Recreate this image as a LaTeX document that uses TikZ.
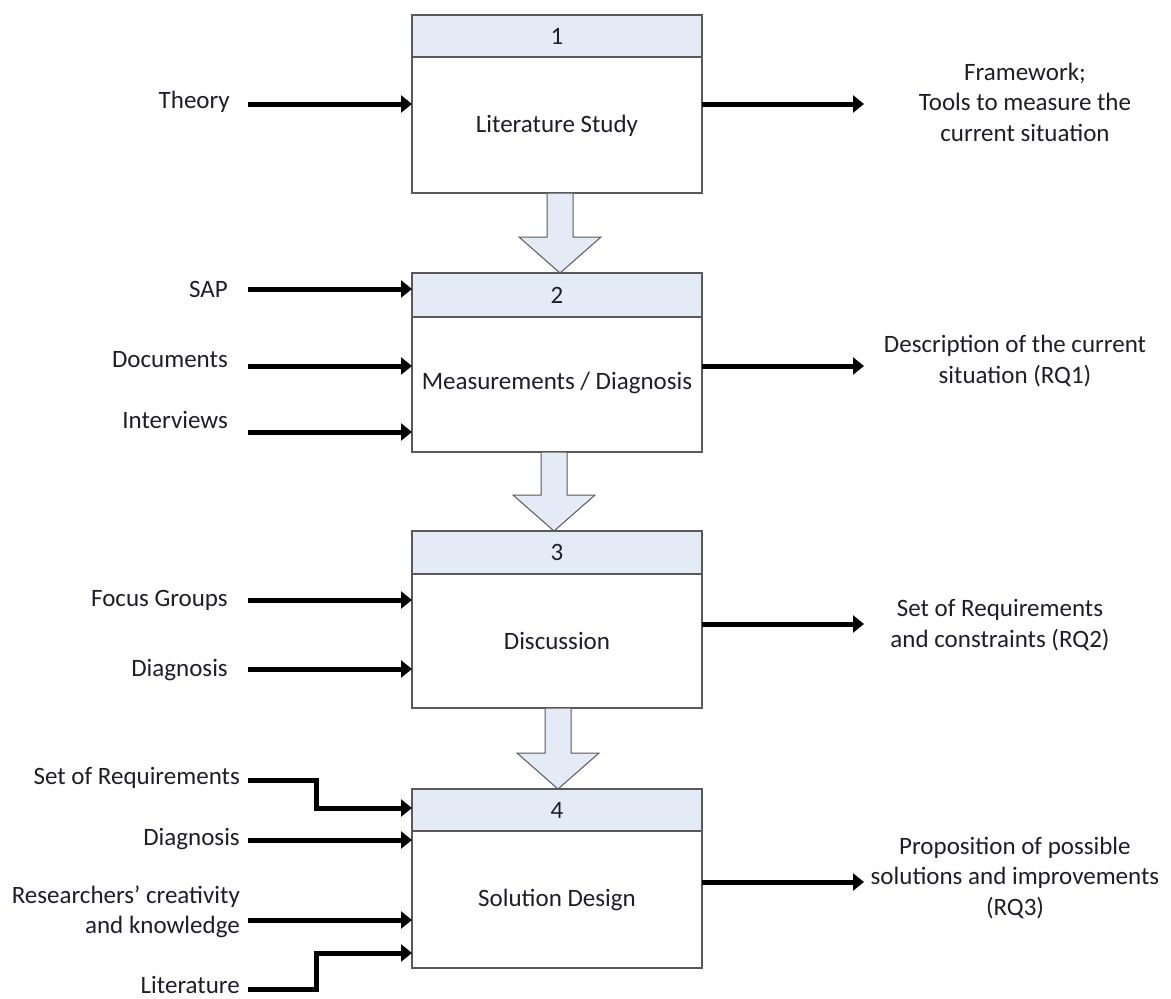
\documentclass[tikz,border=0pt]{standalone}
\usepackage{fontspec}
\setmainfont{Carlito}
\usetikzlibrary{arrows.meta,calc}
\definecolor{hdrfill}{HTML}{E4EBF6}
\definecolor{boxline}{HTML}{595959}
\definecolor{txt}{HTML}{1E1E28}
\tikzset{
  txtstyle/.style={text=txt,font=\fontsize{25}{30.5}\selectfont},
  hdr/.style={draw=boxline,line width=1.2pt,fill=hdrfill,minimum width=290,minimum height=42,
    inner sep=0,outer sep=0,anchor=north west,txtstyle},
  body/.style={draw=boxline,line width=1.2pt,fill=white,minimum width=290,
    inner sep=0,outer sep=0,anchor=north west,txtstyle},
  lbl/.style={txtstyle,anchor=east,align=right,inner sep=0},
  outlbl/.style={txtstyle,align=center,inner sep=0},
  flow/.style={line width=5pt,-{Triangle[length=11pt,width=17pt]}},
  bigarrow/.style={draw=boxline,line width=1pt,fill=hdrfill,line join=miter}
}
\newcommand{\downarrowshape}[2]{% start anchor, tip
  \path[bigarrow] let \p1=(#1), \p2=(#2) in
    (\x1-13,\y1) -- (\x1-13,\y2+36) -- (\x1-41,\y2+36) -- (\x2,\y2)
    -- (\x1+41,\y2+36) -- (\x1+13,\y2+36) -- (\x1+13,\y1) -- cycle;}
\begin{document}
\begin{tikzpicture}[x=1pt,y=-1pt]
\useasboundingbox (0,0) rectangle (1171,999);

% process boxes
\node[hdr] (h1) at (412,15) {1};
\node[body,minimum height=136] (b1) at (h1.south west) {};
\node[txtstyle] at (557,126) {Literature Study};

\node[hdr,minimum height=44] (h2) at (412,273) {2};
\node[body,minimum height=135] (b2) at (h2.south west) {};
\node[txtstyle] at (557,383) {Measurements / Diagnosis};

\node[hdr,minimum height=43] (h3) at (412,531) {3};
\node[body,minimum height=134] (b3) at (h3.south west) {};
\node[txtstyle] at (557,641) {Discussion};

\node[hdr] (h4) at (412,789) {4};
\node[body,minimum height=137] (b4) at (h4.south west) {};
\node[txtstyle] at (557,900) {Solution Design};

% flow between steps
\downarrowshape{$(b1.south)+(3,0)$}{$(h2.north)+(3,0)$}
\downarrowshape{$(b2.south)+(-3,0)$}{$(h3.north)+(-3,0)$}
\downarrowshape{$(b3.south)+(1,0)$}{$(h4.north)+(1,0)$}

% inputs of step 1
\node[lbl] (i1) at (230,102) {Theory};
\coordinate (s1) at (248,104);
\draw[flow] (s1) -- (s1 -| b1.west);

% inputs of step 2
\node[lbl] (i2) at (228,289) {SAP};
\node[lbl] (i3) at (228,360) {Documents};
\node[lbl] (i4) at (228,420) {Interviews};
\coordinate (s2) at (248,289);
\coordinate (s3) at (248,366);
\coordinate (s4) at (248,432);
\draw[flow] (s2) -- (s2 -| b2.west);
\draw[flow] (s3) -- (s3 -| b2.west);
\draw[flow] (s4) -- (s4 -| b2.west);

% inputs of step 3
\node[lbl] (i5) at (228,600) {Focus Groups};
\node[lbl] (i6) at (228,670) {Diagnosis};
\coordinate (s5) at (248,600);
\coordinate (s6) at (248,669);
\draw[flow] (s5) -- (s5 -| b3.west);
\draw[flow] (s6) -- (s6 -| b3.west);

% inputs of step 4
\node[lbl] (i7) at (240,778) {Set of Requirements};
\node[lbl] (i8) at (240,839) {Diagnosis};
\node[lbl] (i9) at (240,912) {Researchers’ creativity\\and knowledge};
\node[lbl] (i10) at (240,985) {Literature};
\coordinate (s7) at (248,780);
\coordinate (s8) at (248,840);
\coordinate (s9) at (248,920);
\coordinate (s10) at (248,989);
\draw[flow,line join=miter] (s7) -- (316,780) -- (316,808) -- (b4.west |- 0,808);
\draw[flow] (s8) -- (s8 -| b4.west);
\draw[flow] (s9) -- (s9 -| b4.west);
\draw[flow,line join=miter] (s10) -- (316,989) -- (316,953) -- (b4.west |- 0,953);

% outputs
\node[outlbl] (o1) at (1025,102) {Framework;\\Tools to measure the\\current situation};
\coordinate (e1) at (864,104);
\draw[flow] (b1.east |- e1) -- (e1);

\node[outlbl] (o2) at (1015,361) {Description of the current\\situation (RQ1)};
\coordinate (e2) at (864,366);
\draw[flow] (b2.east |- e2) -- (e2);

\node[outlbl] (o3) at (1000,625) {Set of Requirements\\and constraints (RQ2)};
\coordinate (e3) at (864,624);
\draw[flow] (b3.east |- e3) -- (e3);

\node[outlbl] (o4) at (1015,878) {Proposition of possible\\solutions and improvements\\(RQ3)};
\coordinate (e4) at (864,882);
\draw[flow] (b4.east |- e4) -- (e4);
\end{tikzpicture}
\end{document}
